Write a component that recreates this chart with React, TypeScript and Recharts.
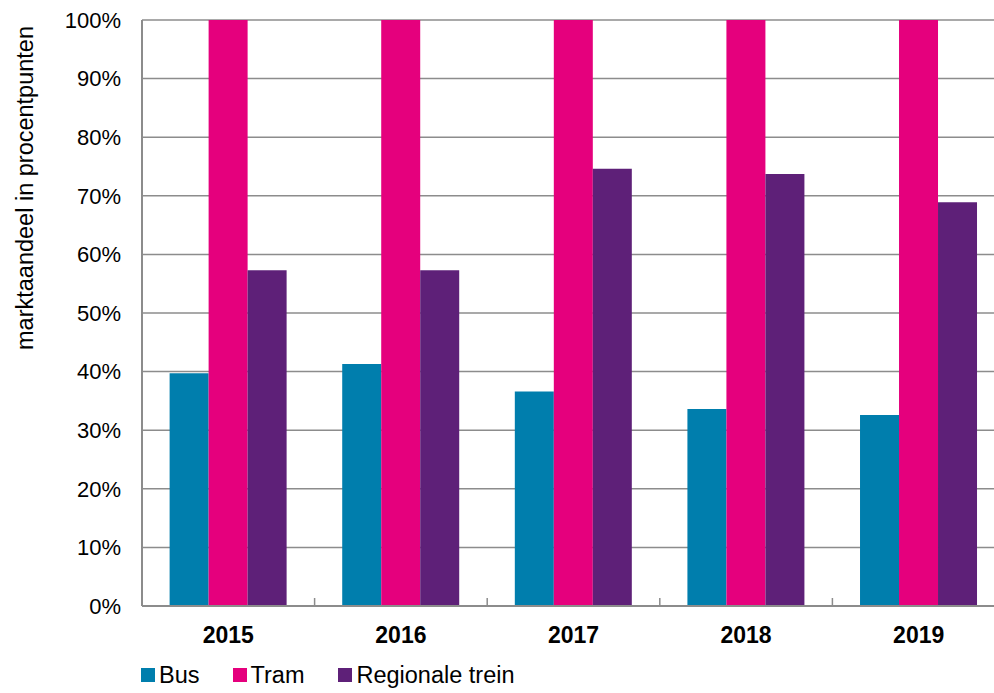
import {
  BarChart,
  Bar,
  XAxis,
  YAxis,
  CartesianGrid,
  Legend,
} from "recharts";

const years = ["2015", "2016", "2017", "2018", "2019"];
const bus = [39.7, 41.3, 36.6, 33.6, 32.6];
const tram = [100, 100, 100, 100, 100];
const regionaleTrein = [57.3, 57.3, 74.6, 73.7, 68.9];
const yTicks = [0, 10, 20, 30, 40, 50, 60, 70, 80, 90, 100];

const series = [
  { key: "bus", name: "Bus", color: "#007EAD" },
  { key: "tram", name: "Tram", color: "#E5007D" },
  { key: "trein", name: "Regionale trein", color: "#5E2078" },
];

const data = years.map((year, i) => ({
  year,
  bus: bus[i],
  tram: tram[i],
  trein: regionaleTrein[i],
}));

const font = '"Liberation Sans", Arial, sans-serif';
const gridColor = "#8c8c8c";

function YearTick(props: any) {
  const { x, y, payload, width } = props;
  const half = width / years.length / 2;
  return (
    <g>
      <line x1={x + half} x2={x + half} y1={y - 8} y2={y} stroke={gridColor} strokeWidth={1.5} />
      <text
        x={x}
        y={y + 37}
        textAnchor="middle"
        fontFamily={font}
        fontSize={23}
        fontWeight="bold"
        fill="#000"
      >
        {payload.value}
      </text>
    </g>
  );
}

function YLabel() {
  return (
    <text
      x={33}
      y={188}
      transform="rotate(-90 33 188)"
      textAnchor="middle"
      fontFamily={font}
      fontSize={23.5}
      fill="#000"
    >
      marktaandeel in procentpunten
    </text>
  );
}

function LegendContent() {
  return (
    <div style={{ display: "flex", height: 28, lineHeight: "28px", alignItems: "center", fontFamily: font, fontSize: 23.5, color: "#000" }}>
      {series.map((s, i) => (
        <div key={s.key} style={{ display: "flex", alignItems: "center", marginRight: i === 0 ? 33 : 34 }}>
          <span style={{ width: 14, height: 14, background: s.color, display: "inline-block", marginRight: 4 }} />
          <span>{s.name}</span>
        </div>
      ))}
    </div>
  );
}

export default function App() {
  return (
    <div style={{ position: "absolute", left: 0, top: 0, width: 994, height: 693, overflow: "hidden", background: "#fff" }}>
      <BarChart
        width={1005}
        height={693}
        data={data}
        margin={{ top: 20, right: 0, bottom: 4, left: 0 }}
        barCategoryGap="16%"
        barGap={0}
      >
        <CartesianGrid vertical={false} stroke={gridColor} strokeWidth={1.5} />
        <XAxis
          dataKey="year"
          height={55}
          tickLine={false}
          tickSize={0}
          tickMargin={0}
          axisLine={{ stroke: gridColor, strokeWidth: 2 }}
          tick={<YearTick />}
          interval={0}
        />
        <YAxis
          width={142}
          domain={[0, 100]}
          ticks={yTicks}
          tickFormatter={(v: number) => `${v}%`}
          tickLine={false}
          tickSize={0}
          tickMargin={21}
          axisLine={{ stroke: gridColor, strokeWidth: 2 }}
          tick={{ fontFamily: font, fontSize: 22, fill: "#000" }}
          label={<YLabel />}
        />
        <Legend
          verticalAlign="bottom"
          align="left"
          content={<LegendContent />}
          wrapperStyle={{ left: 141 }}
        />
        {series.map((s) => (
          <Bar key={s.key} dataKey={s.key} name={s.name} fill={s.color} isAnimationActive={false} />
        ))}
      </BarChart>
    </div>
  );
}
